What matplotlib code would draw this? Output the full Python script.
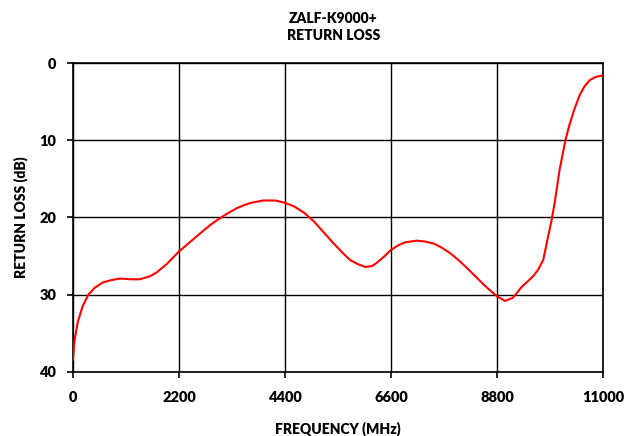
import matplotlib.pyplot as plt
import numpy as np

# frequency (MHz) and return loss (dB)
freq = [0, 30, 100, 200, 318, 450, 623, 800, 975, 1200, 1390, 1600, 1740, 1950,
        2200, 2350, 2500, 2650, 2843, 3000, 3200, 3400, 3550, 3700, 3943, 4200,
        4400, 4600, 4800, 5000, 5200, 5400, 5600, 5750, 5900, 6060, 6200, 6300,
        6450, 6600, 6750, 6900, 7140, 7300, 7500, 7650, 7825, 8000, 8170, 8350,
        8510, 8650, 8800, 8966, 9130, 9310, 9450, 9550, 9650, 9760, 9860, 9935,
        10000, 10100, 10220, 10300, 10400, 10520, 10620, 10730, 10850, 11000]
rl = [38.4, 36.0, 33.5, 31.5, 30.0, 29.1, 28.4, 28.1, 27.9, 28.0, 28.0, 27.6, 27.1, 26.0,
      24.4, 23.6, 22.8, 22.0, 21.0, 20.3, 19.5, 18.8, 18.4, 18.1, 17.8, 17.8,
      18.1, 18.6, 19.4, 20.5, 21.9, 23.3, 24.6, 25.5, 26.0, 26.4, 26.3, 25.9,
      25.1, 24.2, 23.6, 23.2, 23.0, 23.1, 23.4, 23.9, 24.6, 25.5, 26.5, 27.6,
      28.6, 29.4, 30.2, 30.8, 30.4, 29.0, 28.2, 27.6, 26.8, 25.5, 22.5, 20.3,
      18.0, 13.8, 10.0, 8.1, 6.1, 4.1, 3.0, 2.2, 1.8, 1.6]

xticks = [0, 2200, 4400, 6600, 8800, 11000]
yticks = [0, 10, 20, 30, 40]

plt.rcParams['font.family'] = ['Lato', 'DejaVu Sans']
plt.rcParams['font.weight'] = 'bold'

fig = plt.figure(figsize=(6.27, 4.36), dpi=100)
ax = fig.add_axes([0.1164, 0.1468, 0.8453, 0.7087])

ax.plot(freq, rl, color='red', linewidth=1.5, zorder=3)

ax.set_xlim(0, 11000)
ax.set_ylim(40, 0)
ax.set_xticks(xticks)
ax.set_yticks(yticks)
ax.grid(True, color='black', linewidth=1)
for s in ax.spines.values():
    s.set_linewidth(1.2)
ax.tick_params(axis='both', labelsize=10.5, length=4, width=1.2, direction='out')
for lab in ax.get_xticklabels() + ax.get_yticklabels():
    lab.set_fontweight('heavy')
ax.tick_params(axis='x', pad=10)
ax.tick_params(axis='y', pad=8)

ax.set_xlabel('FREQUENCY (MHz)', fontsize=10, fontweight='heavy', labelpad=12)
ax.set_ylabel('RETURN LOSS (dB)', fontsize=10, fontweight='heavy', labelpad=8)
fig.text(0.532, 0.958, 'ZALF-K9000+', ha='center', va='center', fontsize=10, fontweight='heavy')
fig.text(0.532, 0.918, 'RETURN LOSS', ha='center', va='center', fontsize=10, fontweight='heavy')

fig.savefig('out.png', dpi=100)
